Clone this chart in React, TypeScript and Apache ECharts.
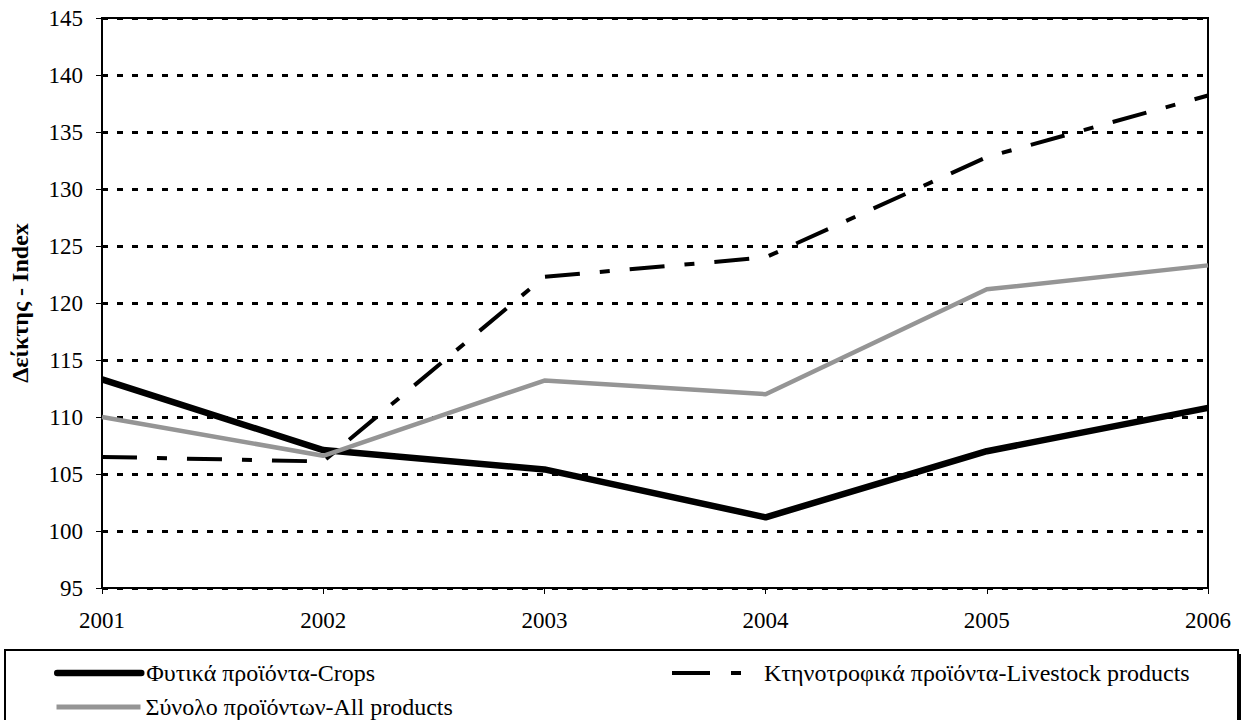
import React, { useEffect, useRef } from "react";
import * as echarts from "echarts";

const years = ["2001", "2002", "2003", "2004", "2005", "2006"];
const crops = [113.3, 107.1, 105.4, 101.2, 107.0, 110.8];
const livestock = [106.5, 106.1, 122.3, 124.0, 132.8, 138.2];
const allProducts = [110.0, 106.6, 113.2, 112.0, 121.2, 123.3];

const nameCrops = "Φυτικά προϊόντα-Crops";
const nameLivestock = "Κτηνοτροφικά προϊόντα-Livestock products";
const nameAll = "Σύνολο προϊόντων-All products";
const yName = "Δείκτης - Index";

const FONT = "'Liberation Serif', 'Times New Roman', serif";
const GRAY = "#959595";

export default function App() {
  const ref = useRef<HTMLDivElement>(null);
  useEffect(() => {
    if (!ref.current) return;
    const chart = echarts.init(ref.current, null, { renderer: "svg" });
    const legendText = { fontFamily: FONT, fontSize: 24, color: "#000" };
    chart.setOption({
      animation: false,
      backgroundColor: "#fff",
      textStyle: { fontFamily: FONT },
      grid: {
        left: 102,
        right: 36,
        top: 18,
        bottom: 132,
        show: true,
        borderColor: "#000",
        borderWidth: 2,
        backgroundColor: "transparent",
      },
      graphic: [
        {
          type: "rect",
          z: -1,
          shape: { x: 9, y: 654, width: 1232, height: 80 },
          style: { fill: "#000" },
        },
        {
          type: "rect",
          z: -1,
          shape: { x: 5, y: 650, width: 1233, height: 80 },
          style: { fill: "#fff", stroke: "#000", lineWidth: 2 },
        },
      ],
      legend: [
        {
          data: [nameCrops],
          left: 54,
          top: 661,
          padding: 0,
          itemWidth: 84,
          itemHeight: 14,
          textStyle: legendText,
          lineStyle: { width: 6.5, cap: "round" },
          itemStyle: { opacity: 0 },
        },
        {
          data: [nameLivestock],
          left: 670,
          top: 661,
          padding: 0,
          itemWidth: 87,
          itemHeight: 14,
          textStyle: legendText,
          lineStyle: { width: 4, type: [38, 21, 10, 21] },
          itemStyle: { opacity: 0 },
        },
        {
          data: [nameAll],
          left: 54,
          top: 695,
          padding: 0,
          itemWidth: 84,
          itemHeight: 14,
          textStyle: legendText,
          lineStyle: { width: 5 },
          itemStyle: { opacity: 0 },
        },
      ],
      xAxis: {
        type: "category",
        data: years,
        boundaryGap: false,
        axisLine: { lineStyle: { color: "#000", width: 2 } },
        axisTick: { show: true, length: 6, lineStyle: { color: "#000", width: 1 } },
        axisLabel: { fontFamily: FONT, fontSize: 23, color: "#000", margin: 21 },
        splitLine: { show: false },
      },
      yAxis: {
        type: "value",
        min: 95,
        max: 145,
        interval: 5,
        name: yName,
        nameLocation: "middle",
        nameGap: 70,
        nameTextStyle: { fontFamily: FONT, fontSize: 24, fontWeight: "bold", color: "#000" },
        axisLine: { show: true, lineStyle: { color: "#000", width: 2 } },
        axisTick: { show: true, length: 6, lineStyle: { color: "#000", width: 1 } },
        axisLabel: { fontFamily: FONT, fontSize: 23, color: "#000", margin: 19 },
        splitLine: { show: true, lineStyle: { color: "#000", width: 3, type: [6, 9] } },
      },
      series: [
        {
          name: nameCrops,
          type: "line",
          data: crops,
          showSymbol: false,
          symbol: "none",
          lineStyle: { color: "#000", width: 6.5 },
          itemStyle: { color: "#000" },
          z: 3,
        },
        {
          name: nameLivestock,
          type: "line",
          data: livestock,
          showSymbol: false,
          symbol: "none",
          lineStyle: { color: "#000", width: 4, type: [35, 20, 10, 20] },
          itemStyle: { color: "#000" },
          z: 4,
        },
        {
          name: nameAll,
          type: "line",
          data: allProducts,
          showSymbol: false,
          symbol: "none",
          lineStyle: { color: GRAY, width: 4.5 },
          itemStyle: { color: GRAY },
          z: 5,
        },
      ],
    });
    return () => chart.dispose();
  }, []);
  return (
    <div
      ref={ref}
      style={{ position: "absolute", left: 0, top: 0, width: 1244, height: 720 }}
    />
  );
}
